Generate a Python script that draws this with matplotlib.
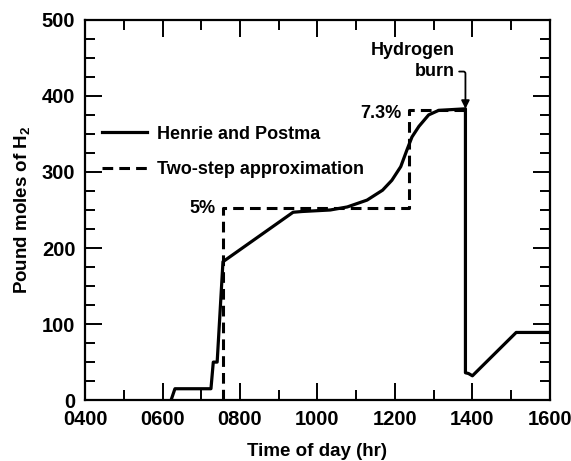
import matplotlib
matplotlib.use('Agg')
import matplotlib.pyplot as plt
from matplotlib.ticker import MultipleLocator

plt.rcParams['font.family'] = ['Liberation Sans', 'DejaVu Sans']
plt.rcParams['font.weight'] = 'bold'
plt.rcParams['mathtext.fontset'] = 'custom'
plt.rcParams['mathtext.rm'] = 'Liberation Sans:bold'
plt.rcParams['mathtext.default'] = 'rm'

# time of day in hours, H2 in pound moles
henrie_t = [6.22, 6.32, 7.25, 7.31, 7.41, 7.56, 9.37, 9.6, 10.33, 10.77,
            11.28, 11.68, 11.92, 12.15, 12.31, 12.44, 12.62, 12.87, 13.13,
            13.82, 13.82, 13.9, 14.0, 15.13, 16.0]
henrie_h2 = [0, 15, 15, 50, 50, 182, 247, 248, 250, 254,
             263, 276, 289, 307, 329, 346, 360, 375, 381,
             383, 36, 35, 32, 89, 89]

twostep_t = [7.57, 7.57, 12.36, 12.36, 13.82]
twostep_h2 = [0, 252, 252, 382, 382]

xtick_pos = [4, 6, 8, 10, 12, 14, 16]
xtick_labels = ['0400', '0600', '0800', '1000', '1200', '1400', '1600']

labelSize = 13.5
tickSize = 14.5

fig = plt.figure(figsize=(5.71, 4.61), dpi=100)
ax = fig.add_axes([0.149, 0.132, 0.814, 0.825])

p1, = ax.plot(henrie_t, henrie_h2, color='black', lw=2.3,
              solid_joinstyle='round')
p2, = ax.plot(twostep_t, twostep_h2, color='black', lw=2.2,
              linestyle=(0, (3.5, 2)))

ax.set_xlim(4, 16)
ax.set_ylim(0, 500)
ax.set_xticks(xtick_pos)
ax.set_xticklabels(xtick_labels)
ax.xaxis.set_minor_locator(MultipleLocator(1))
ax.yaxis.set_major_locator(MultipleLocator(100))
ax.yaxis.set_minor_locator(MultipleLocator(25))

for s in ax.spines.values():
    s.set_linewidth(1.6)
ax.tick_params(which='both', direction='in', top=True, right=True, width=1.4,
               labelsize=tickSize, pad=7)
ax.tick_params(which='major', length=12)
ax.tick_params(which='minor', length=7)

ax.set_xlabel('Time of day (hr)', fontsize=labelSize, fontweight='bold')
ax.set_ylabel('Pound moles of H$_2$', fontsize=labelSize, fontweight='bold')
ax.xaxis.set_label_coords(0.5, -0.113)
ax.yaxis.set_label_coords(-0.115, 0.5)

# annotations
ax.text(7.37, 252, '5%', ha='right', va='center', fontsize=13)
ax.text(12.18, 377, '7.3%', ha='right', va='center', fontsize=13)
ax.text(13.55, 460, 'Hydrogen', ha='right', va='center', fontsize=13)
ax.annotate('burn', xy=(13.82, 383), xytext=(13.55, 432),
            ha='right', va='center', fontsize=13,
            arrowprops=dict(arrowstyle='-|>', color='black', lw=1.3,
                            mutation_scale=12, shrinkA=1, shrinkB=0,
                            connectionstyle='angle,angleA=0,angleB=90,rad=2'))

ax.legend((p1, p2), ('Henrie and Postma', 'Two-step approximation'),
          loc='upper left', bbox_to_anchor=(0.037, 0.722), frameon=False,
          fontsize=13, handlelength=2.5, handletextpad=0.55,
          labelspacing=1.03, borderpad=0, borderaxespad=0)

plt.savefig('out.png', dpi=100)
